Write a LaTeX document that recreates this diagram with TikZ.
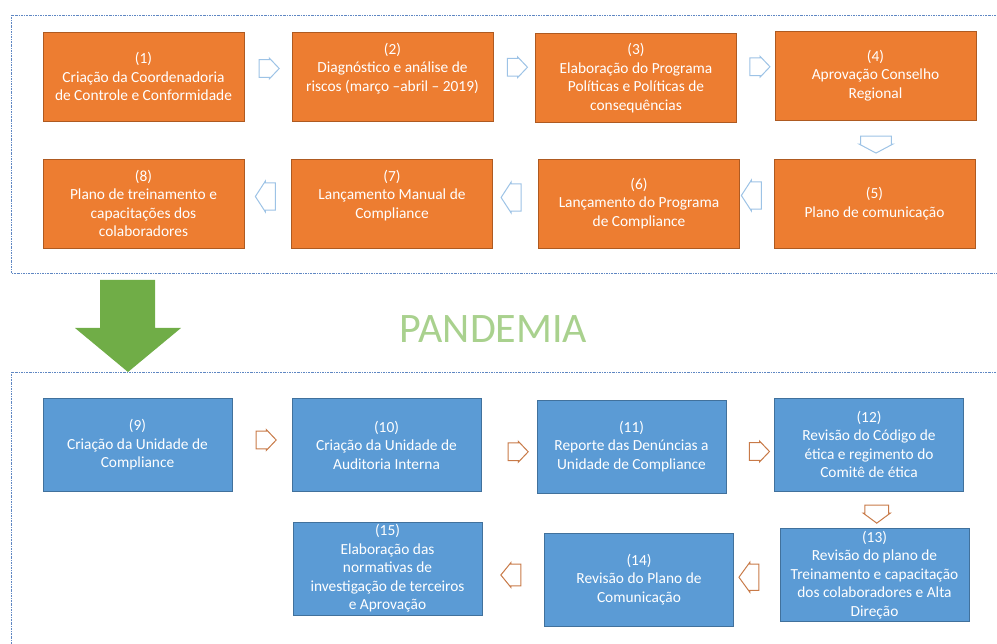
\documentclass[tikz,border=0pt]{standalone}
\usepackage{fontspec}
\setmainfont{Carlito}
\usetikzlibrary{shapes.arrows,calc}

\definecolor{boxorange}{RGB}{237,125,49}
\definecolor{edgeorange}{RGB}{174,90,33}
\definecolor{boxblue}{RGB}{91,155,213}
\definecolor{edgeblue}{RGB}{65,113,156}
\definecolor{flowblue}{RGB}{157,195,230}
\definecolor{flowbrown}{RGB}{200,122,72}
\definecolor{pandgreen}{RGB}{112,173,71}
\definecolor{pandtext}{RGB}{169,209,142}
\definecolor{framecol}{RGB}{95,135,195}

\tikzset{
  stage/.style={draw=edgeorange, fill=boxorange, text=white, line width=0.8pt,
    minimum width=201pt, minimum height=89pt, inner sep=0pt, align=center,
    font=\fontsize{15.4}{18.5}\selectfont},
  stagenew/.style={stage, draw=edgeblue, fill=boxblue,
    minimum width=189pt, minimum height=93pt},
  flow/.style={single arrow, draw=flowblue, fill=white, line width=1pt,
    inner xsep=0pt, inner ysep=5pt, minimum height=20pt, minimum width=21pt,
    single arrow head extend=1pt, single arrow tip angle=93},
  flownew/.style={flow, draw=flowbrown},
  toleft/.style={rotate=180, minimum width=31pt, inner ysep=6.5pt, single arrow tip angle=114},
  todown/.style={rotate=-90, minimum height=17pt, minimum width=34pt, inner ysep=8.5pt, single arrow tip angle=124},
  frame/.style={draw=framecol, line width=0.7pt, dash pattern=on 2pt off 1pt on 0.7pt off 1pt}
}

\begin{document}
\begin{tikzpicture}[x=1pt,y=-1pt]
\useasboundingbox (0,0) rectangle (997,644);

% frames
\path[frame] (1010,15) -| (11,273) -- (1010,273);
\path[frame] (1010,372) -| (11,660);

% before the pandemic
\node[stage] (b1) at (143.5,76.5) {(1)\\Criação da Coordenadoria\\de Controle e Conformidade};
\node[stage] (b2) at (392.5,76.5) {(2)\\Diagnóstico e análise de\\riscos (março –abril – 2019)\\\mbox{}};
\node[stage] (b3) at (636,78) {(3)\\Elaboração do Programa\\Políticas e Políticas de\\consequências};
\node[stage] (b4) at (875.5,75.5) {(4)\\Aprovação Conselho\\Regional};
\node[stage] (b5) at (874.5,203.5) {(5)\\Plano de comunicação};
\node[stage] (b6) at (639,203.5) {(6)\\Lançamento do Programa\\de Compliance};
\node[stage] (b7) at (392,203.5) {(7)\\Lançamento Manual de\\Compliance\\\mbox{}};
\node[stage] (b8) at (143.5,203.5) {(8)\\Plano de treinamento e\\capacitações dos\\colaboradores};

\node[flow] (a12) at ($(b1.east)!.5!(b2.west)+(-3,-8)$) {};
\node[flow] (a23) at ($(b2.east)!.5!(b3.west)+(-1,-10)$) {};
\node[flow] (a34) at ($(b3.east)!.5!(b4.west)+(0,-10)$) {};
\node[flow,todown] (a45) at ($(b4.south)!.5!(b5.north)+(1,1)$) {};
\node[flow,toleft] (a56) at ($(b5.west)!.5!(b6.east)+(-1,-8)$) {};
\node[flow,toleft] (a67) at ($(b6.west)!.5!(b7.east)+(0,-6)$) {};
\node[flow,toleft] (a78) at ($(b7.west)!.5!(b8.east)+(2,-7)$) {};

% pandemic
\fill[pandgreen] (100,280) -- (155,280) -- (155,328) -- (181,328) -- (128,372)
  -- (75,328) -- (100,328) -- cycle;
\node[text=pandtext, font=\fontsize{42}{50}\selectfont, anchor=base, inner sep=0pt]
  (pand) at (493.5,343) {PANDEMIA};

% after the pandemic
\node[stagenew] (b9) at (137.5,445) {(9)\\Criação da Unidade de\\Compliance};
\node[stagenew] (b10) at (386.5,445) {(10)\\Criação da Unidade de\\Auditoria Interna};
\node[stagenew] (b11) at (631.5,446.5) {(11)\\Reporte das Denúncias a\\Unidade de Compliance};
\node[stagenew] (b12) at (869,444.5) {(12)\\Revisão do Código de\\ética e regimento do\\Comitê de ética};
\node[stagenew] (b13) at (874.5,575) {(13)\\Revisão do plano de\\Treinamento e capacitação\\dos colaboradores e Alta\\Direção};
\node[stagenew] (b14) at (639,579.5) {(14)\\Revisão do Plano de\\Comunicação};
\node[stagenew] (b15) at (387.5,568.5) {(15)\\Elaboração das\\normativas de\\investigação de terceiros\\e Aprovação};

\node[flownew] (a910) at ($(b9.east)!.5!(b10.west)+(0,-5)$) {};
\node[flownew] (a1011) at ($(b10.east)!.5!(b11.west)+(5,6)$) {};
\node[flownew] (a1112) at ($(b11.east)!.5!(b12.west)+(5,6)$) {};
\node[flownew,todown,minimum height=18pt,minimum width=27pt,inner ysep=7pt,single arrow tip angle=107] (a1213) at ($(b12.south)!.5!(b13.north)+(5,0)$) {};
\node[flownew,toleft,minimum width=30pt,inner ysep=7pt,single arrow tip angle=108] (a1314) at ($(b13.west)!.5!(b14.east)+(-3,0)$) {};
\node[flownew,toleft,minimum width=25pt,inner ysep=6pt,single arrow tip angle=102] (a1415) at ($(b14.west)!.5!(b15.east)+(2,1)$) {};
\end{tikzpicture}
\end{document}
